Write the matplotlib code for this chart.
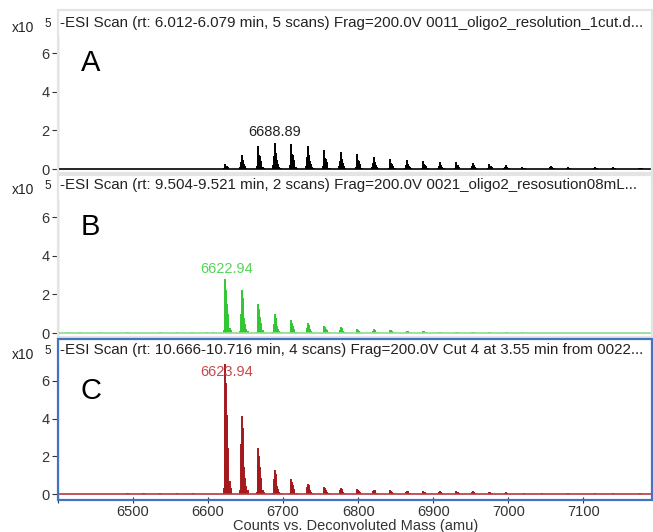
import matplotlib.pyplot as plt
from matplotlib.patches import Rectangle

plt.rcParams['font.family'] = ['Liberation Sans', 'DejaVu Sans']

# ---- data (x10^5 counts vs deconvoluted mass) ----
titles = [
    "-ESI Scan (rt: 6.012-6.079 min, 5 scans) Frag=200.0V 0011_oligo2_resolution_1cut.d...",
    "-ESI Scan (rt: 9.504-9.521 min, 2 scans) Frag=200.0V 0021_oligo2_resosution08mL...",
    "-ESI Scan (rt: 10.666-10.716 min, 4 scans) Frag=200.0V Cut 4 at 3.55 min from 0022...",
]
letters = ["A", "B", "C"]
peak_labels = ["6688.89", "6622.94", "6623.94"]
label_pos = [(6689, 1.9), (6625, 3.3), (6625, 6.5)]

mass_A = [6535, 6579, 6623, 6645, 6667, 6689, 6711, 6733, 6755, 6777, 6799, 6821, 6843,
          6865, 6887, 6909, 6931, 6953, 6975, 6997, 7019, 7057, 7080, 7116, 7140, 7176]
height_A = [0.02, 0.02, 0.25, 0.75, 1.2, 1.36, 1.28, 1.2, 0.97, 0.88, 0.8, 0.62, 0.52,
            0.46, 0.4, 0.36, 0.34, 0.31, 0.26, 0.21, 0.08, 0.16, 0.09, 0.08, 0.08, 0.06]

mass_B = [6413, 6429, 6456, 6492, 6536, 6558, 6578, 6598, 6607,
          6623, 6645, 6667, 6689, 6711, 6733, 6755, 6777, 6799, 6821, 6843, 6865,
          6887, 6909, 6931, 6953, 6975, 6997, 7019, 7045, 7080, 7110, 7140, 7176]
height_B = [0.03, 0.03, 0.03, 0.04, 0.05, 0.04, 0.04, 0.04, 0.03,
            2.78, 2.25, 1.53, 1.0, 0.67, 0.53, 0.38, 0.3, 0.22, 0.21, 0.17, 0.13,
            0.1, 0.07, 0.06, 0.07, 0.05, 0.04, 0.03, 0.02, 0.02, 0.02, 0.02, 0.02]

mass_C = [6492, 6513, 6536, 6558, 6580,
          6623, 6645, 6667, 6689, 6711, 6733, 6755, 6777, 6799, 6821, 6843, 6865,
          6887, 6909, 6931, 6953, 6975, 6997, 7021, 7045, 7080, 7116, 7140, 7176]
height_C = [0.05, 0.05, 0.04, 0.04, 0.04,
            7.0, 4.17, 2.43, 1.27, 0.78, 0.56, 0.38, 0.32, 0.27, 0.24, 0.21, 0.19,
            0.16, 0.15, 0.15, 0.16, 0.13, 0.1, 0.04, 0.04, 0.04, 0.04, 0.04, 0.04]

# isotope cluster shape (offset in amu, relative height)
shape_off = [-2, -1, 0, 1, 2, 3, 4, 6, 8]
shape_A = [0.15, 0.5, 1.0, 0.6, 0.55, 0.35, 0.2, 0.08, 0.03]
shape_B = [0.05, 0.45, 1.0, 0.8, 0.55, 0.35, 0.2, 0.1, 0.05]
shape_C = [0.05, 0.64, 1.0, 0.84, 0.6, 0.35, 0.2, 0.1, 0.05]

colors = ["#000000", "#33c633", "#a3191e"]
label_colors = ["#222222", "#55d655", "#c8494c"]
base_colors = ["#000000", "#8fdc8f", "#b53a3e"]

series = [(mass_A, height_A, shape_A), (mass_B, height_B, shape_B), (mass_C, height_C, shape_C)]

W, H = 653, 532
fig = plt.figure(figsize=(W / 100, H / 100), dpi=100)

# pixel layout of the three panels: (box top, box bottom, title centre, axes top, axes bottom)
panels = [(10, 173, 23, 36, 170), (175, 337, 185, 200, 334), (339, 500, 350, 364, 497)]

xmin, xmax = 6400, 7193
for i, (m, h, shp) in enumerate(series):
    btop, bbot, tc, atop, abot = panels[i]
    ax = fig.add_axes([58 / W, 1 - abot / H, (W - 58) / W, (abot - atop) / H])
    xs, ys = [], []
    for mm, hh in zip(m, h):
        for o, r in zip(shape_off, shp):
            xs.append(mm + o)
            ys.append(hh * r)
    ax.vlines(xs, 0, ys, color=colors[i], lw=1.4)
    ax.axhline(0, color=base_colors[i], lw=1.2)
    ax.set_xlim(xmin, xmax)
    ax.set_ylim(-0.05 if i < 2 else -0.15, 6.9)
    ax.set_yticks([0, 2, 4, 6])
    ax.tick_params(axis='y', labelsize=10.5, length=4, pad=2, colors='#333333')
    for s in ['top', 'right', 'bottom']:
        ax.spines[s].set_visible(False)
    ax.spines['left'].set_color('#4472c4' if i == 2 else '#000000')
    ax.text(0.055, 0.8, letters[i], transform=ax.transAxes, fontsize=21,
            ha='center', va='center')
    lx, ly = label_pos[i]
    ax.text(lx, ly, peak_labels[i], color=label_colors[i], fontsize=10.5,
            ha='center', va='center')
    if i < 2:
        ax.set_xticks([])
    else:
        ax.set_xticks([6400, 6500, 6600, 6700, 6800, 6900, 7000, 7100])
        ax.set_xticklabels(['', '6500', '6600', '6700', '6800', '6900', '7000', '7100'])
        ax.tick_params(axis='x', labelsize=10.5, length=4, pad=2, colors='#333333')
        ax.set_xlabel("Counts vs. Deconvoluted Mass (amu)", fontsize=10.5,
                      color='#333333', labelpad=0)

    # panel frame and title strip
    edge = '#4472c4' if i == 2 else '#e4e4e4'
    fig.patches.append(Rectangle((58 / W, 1 - bbot / H), (W - 59) / W, (bbot - btop) / H,
                                 transform=fig.transFigure, fill=False, ec=edge, lw=1.6))
    fig.text(60 / W, 1 - tc / H, titles[i], fontsize=10.9, va='center', ha='left', color='#222222')
    fig.text(12 / W, 1 - (tc + 5) / H, "x10", fontsize=10, va='center', ha='left', color='#222222')
    fig.text(44 / W, 1 - (tc + 1) / H, "5", fontsize=8.5, va='center', ha='left', color='#222222')

fig.savefig("out.png", dpi=100)
